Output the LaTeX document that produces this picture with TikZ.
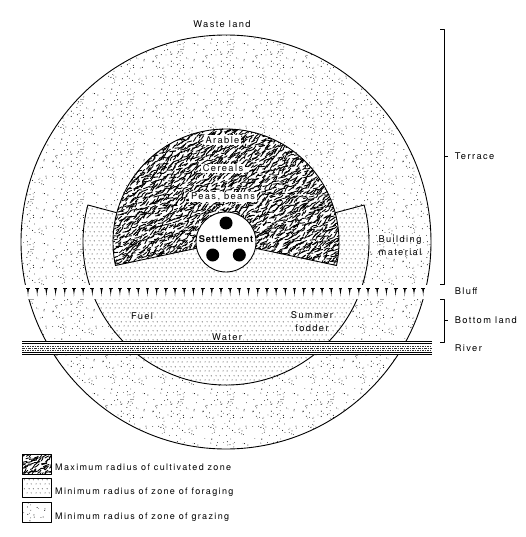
\documentclass[tikz,border=0pt]{standalone}
\usepackage{fontspec}
\setmainfont{TeX Gyre Heros}
\newfontfamily\labfont[LetterSpace=15]{TeX Gyre Heros}
\newfontfamily\setfont[LetterSpace=8]{TeX Gyre Heros}
\usetikzlibrary{patterns}

% grazing: irregular sparse stipple
\pgfdeclarepatternformonly{grazing}{\pgfqpoint{0pt}{0pt}}{\pgfqpoint{50pt}{50pt}}{\pgfqpoint{50pt}{50pt}}{%
  \pgfmathsetseed{5}%
  \foreach \k in {1,...,95}{%
    \pgfmathsetmacro\xa{0.7+rnd*48.6}%
    \pgfmathsetmacro\ya{0.7+rnd*48.6}%
    \pgfmathsetmacro\rr{0.33+rnd*0.22}%
    \pgfpathcircle{\pgfpoint{\xa pt}{\ya pt}}{\rr pt}%
    \pgfusepath{fill}%
  }%
}

% foraging: regular staggered dots
\pgfdeclarepatternformonly{foraging}{\pgfqpoint{0pt}{0pt}}{\pgfqpoint{8.6pt}{8.6pt}}{\pgfqpoint{8.6pt}{8.6pt}}{%
  \pgfpathcircle{\pgfqpoint{1.075pt}{1.075pt}}{0.5pt}%
  \pgfpathcircle{\pgfqpoint{5.375pt}{1.075pt}}{0.5pt}%
  \pgfpathcircle{\pgfqpoint{3.225pt}{5.375pt}}{0.5pt}%
  \pgfpathcircle{\pgfqpoint{7.525pt}{5.375pt}}{0.5pt}%
  \pgfusepath{fill}%
}

\tikzset{
  lab/.style={font=\labfont\fontsize{9.3}{13}\selectfont, inner sep=0.6pt},
  cutlab/.style={lab, fill=white, inner xsep=1.6pt, inner ysep=1.2pt},
  leg/.style={font=\labfont\fontsize{9}{11}\selectfont, inner sep=0pt, anchor=west},
  bound/.style={line width=0.9pt},
  legbox/.style={line width=0.9pt},
  worm/.style={line width=0.9pt, line cap=round},
}

% worm texture over a grid (pixel coordinates, y downward)
% #1 = x0, #2 = number of columns - 1, #3 = y0, #4 = number of rows - 1
\newcommand{\wormfield}[4]{%
  \foreach \ii in {0,...,#2}{%
    \foreach \jj in {0,...,#4}{%
      \pgfmathsetmacro\wx{#1+3.4*\ii+rand*2}%
      \pgfmathsetmacro\wy{-(#3+3.4*\jj)+rand*2}%
      \pgfmathsetmacro\wa{35+rand*30}%
      \pgfmathsetmacro\wl{3.5+rnd*3}%
      \pgfmathsetmacro\wc{rand*45}%
      \pgfmathsetmacro\wd{rand*45}%
      \draw[worm] (\wx,\wy) .. controls +(\wa+\wc:\wl/2.5) and +(\wa+180+\wd:\wl/2.5) .. +(\wa:\wl);
    }%
  }%
}

\begin{document}
\begin{tikzpicture}[x=1pt,y=1pt,line join=round]
\useasboundingbox (0,0) rectangle (525,-537);
\coordinate (C) at (226,-242);

% outer grazing circle
\fill[white] (C) ellipse [x radius=205, y radius=207];
\path[pattern=grazing] (C) ellipse [x radius=205, y radius=207];
\draw[bound] (C) ellipse [x radius=205, y radius=207];

% foraging sector
\fill[white] (C) -- ++(165:143) arc[start angle=165, end angle=375, radius=143] -- cycle;
\path[pattern=foraging] (C) -- ++(165:143) arc[start angle=165, end angle=375, radius=143] -- cycle;
\draw[bound] (C) -- ++(165:143) arc[start angle=165, end angle=375, radius=143] -- cycle;

% cultivated zone
\fill[white] (C) -- ++(-12:113) arc[start angle=-12, end angle=192, radius=113] -- cycle;
\begin{scope}
  \clip (C) -- ++(-12:113) arc[start angle=-12, end angle=192, radius=113] -- cycle;
  \pgfmathsetseed{11}
  \wormfield{108}{70}{124}{43}
\end{scope}
\draw[bound] (C) -- ++(-12:113) arc[start angle=-12, end angle=192, radius=113] -- cycle;

% settlement
\draw[bound, fill=white] (C) circle[radius=30];
\fill (226,-223) circle[radius=6.5];
\fill (212.7,-255) circle[radius=6.5];
\fill (239.3,-255) circle[radius=6.5];

% bluff band
\fill[white] (15,-285) rectangle (437,-299);
\foreach \i in {0,...,43}{
  \pgfmathsetmacro\tx{28+\i*9.19}
  \draw[line width=0.8pt] (\tx-1.9,-288.3) -- (\tx+1.9,-288.3);
  \fill (\tx-1.1,-288.3) -- (\tx+1.1,-288.3) -- (\tx+0.3,-293) -- (\tx,-296.5) -- (\tx-0.3,-293) -- cycle;
}

% river
\fill[white] (22,-340.8) rectangle (432,-355.4);
\draw[line width=0.8pt] (22,-341.6) -- (432,-341.6);
\draw[line width=0.4pt] (22,-343.6) -- (432,-343.6);
\draw[line width=0.5pt, dash pattern=on 1.5pt off 1pt, black!80] (22,-345.9) -- (432,-345.9);
\draw[line width=0.5pt, dash pattern=on 3pt off 1pt on 1pt off 1pt, black!80] (22,-348.2) -- (432,-348.2);
\draw[line width=0.5pt, dash pattern=on 1.5pt off 1pt, black!80] (22,-350.4) -- (432,-350.4);
\draw[line width=0.4pt] (22,-352.6) -- (432,-352.6);
\draw[line width=0.8pt] (22,-354.6) -- (432,-354.6);

% brackets
\draw[line width=0.8pt] (440,-29) -- (444,-29) -- (444,-284) -- (440,-284);
\draw[line width=0.8pt] (444,-156) -- (448,-156);
\draw[line width=0.8pt] (440,-299) -- (444,-299) -- (444,-342) -- (440,-342);
\draw[line width=0.8pt] (444,-320) -- (448,-320);

% labels
\node[lab] (waste) at (222,-24) {Waste land};
\node[cutlab] (arable) at (222.5,-140) {Arable};
\node[cutlab] (cereals) at (223,-168.5) {Cereals};
\node[cutlab] (peas) at (223,-197) {Peas, beans};
\node[lab, font=\setfont\bfseries\fontsize{9.3}{13}\selectfont] (settle) at (226,-239.5) {Settlement};
\node[lab, align=center] (build) at (400,-246) {Building\\material};
\node[lab] (fuel) at (142,-316) {Fuel};
\node[lab, align=center] (summer) at (312,-322) {Summer\\fodder};
\node[lab, fill=white] (water) at (227,-337) {Water};
\node[lab, anchor=west] (terrace) at (454,-156) {Terrace};
\node[lab, anchor=west] (bluff) at (454,-291) {Bluff};
\node[lab, anchor=west] (bottom) at (454,-320) {Bottom land};
\node[lab, anchor=west] (river) at (454,-348.5) {River};

% legend
\begin{scope}
  \clip (22,-454) rectangle (51,-474);
  \pgfmathsetseed{23}
  \wormfield{19}{10}{451}{8}
\end{scope}
\draw[legbox] (22,-454) rectangle (51,-474);
\path[pattern=foraging] (22,-478.5) rectangle (51,-497);
\draw[legbox] (22,-478.5) rectangle (51,-497);
\path[pattern=grazing] (22,-502.5) rectangle (51,-522);
\draw[legbox] (22,-502.5) rectangle (51,-522);
\node[leg] (l1) at (55,-467.5) {Maximum radius of cultivated zone};
\node[leg] (l2) at (55,-492.5) {Minimum radius of zone of foraging};
\node[leg] (l3) at (55,-517) {Minimum radius of zone of grazing};
\end{tikzpicture}
\end{document}
